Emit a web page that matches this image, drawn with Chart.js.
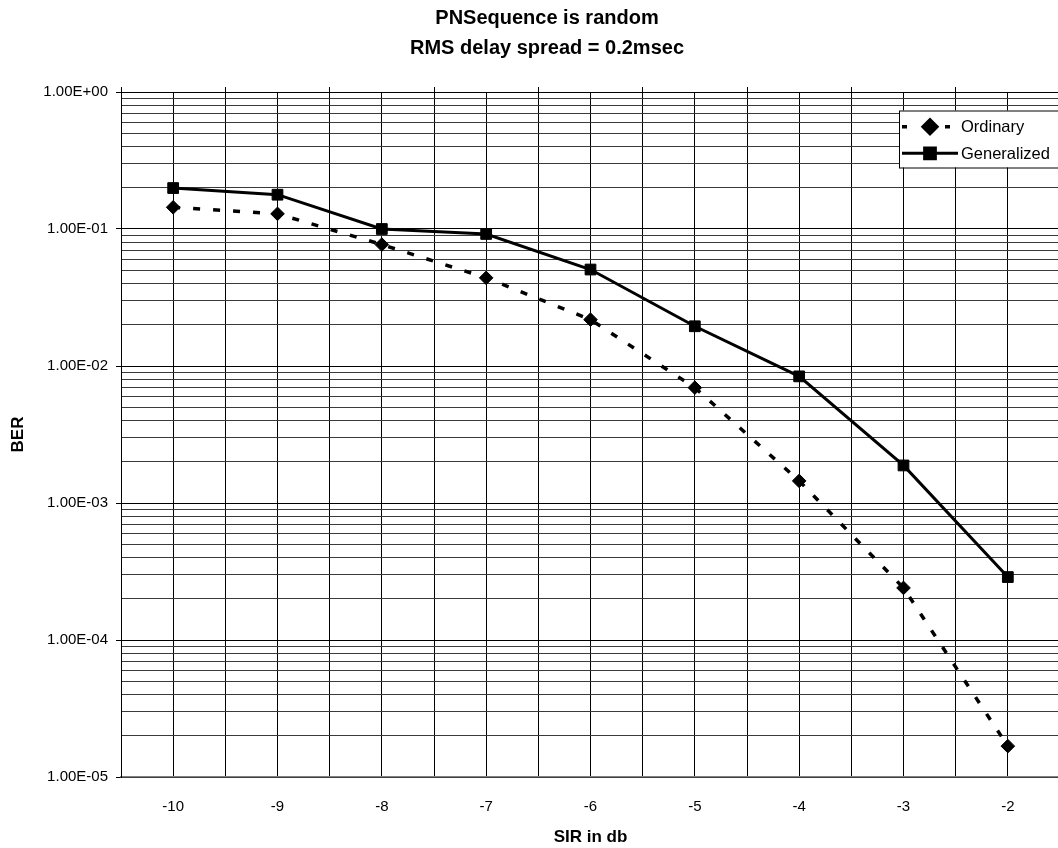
<!DOCTYPE html>
<html><head><meta charset="utf-8">
<script src="https://cdn.jsdelivr.net/npm/chart.js@4/dist/chart.umd.min.js"></script>
<style>
html,body{margin:0;padding:0;background:#fff;overflow:hidden;width:1058px;height:848px}
#wrap{position:absolute;left:0;top:0;width:1094px;height:848px}
</style>
</head><body><div id="wrap"><canvas id="c" width="1094" height="848"></canvas></div>
<script>
// ---- data ----
const sirDb = [-10, -9, -8, -7, -6, -5, -4, -3, -2];
const berOrdinary = [0.144, 0.129, 0.077, 0.044, 0.0218, 0.00695, 0.00145, 0.00024, 0.0000168];
const berGeneralized = [0.199, 0.178, 0.100, 0.092, 0.0506, 0.0195, 0.0084, 0.00188, 0.000288];
const decadeValues = [1e-5, 1e-4, 1e-3, 1e-2, 1e-1, 1];
const decadeLabels = ['1.00E-05', '1.00E-04', '1.00E-03', '1.00E-02', '1.00E-01', '1.00E+00'];
const minorMultipliers = [2, 3, 4, 5, 6, 7, 8, 9];
const seriesNames = ['Ordinary', 'Generalized'];
const titleLines = ['PNSequence is random', 'RMS delay spread = 0.2msec'];
const xTitle = 'SIR in db';
const yTitle = 'BER';

const FONT = "'Liberation Sans', Arial, sans-serif";

const toPoints = (ys) => sirDb.map((x, i) => ({x: x, y: ys[i]}));
const xMin = sirDb[0] - 0.5;
const xMax = sirDb[sirDb.length - 1] + 0.5;

const legendPlugin = {
  id: 'excelLegend',
  afterDraw(chart) {
    const ctx = chart.ctx;
    const ds = chart.data.datasets;
    ctx.save();
    const x0 = 899, y0 = 110.5, w = 200, h = 57;
    ctx.fillStyle = '#fff';
    ctx.fillRect(x0, y0, w, h);
    ctx.strokeStyle = '#000';
    ctx.lineWidth = 1;
    ctx.strokeRect(x0 + 0.5, y0 + 0.5, w, h);
    const rows = [126.7, 153.3];
    const mx = 930;
    ds.forEach((d, i) => {
      const y = rows[i];
      ctx.strokeStyle = d.borderColor;
      ctx.lineWidth = d.borderWidth;
      ctx.setLineDash([]);
      ctx.beginPath();
      if (d.borderDash && d.borderDash.length) {
        ctx.moveTo(902, y); ctx.lineTo(907, y);
        ctx.moveTo(945, y); ctx.lineTo(950, y);
      } else {
        ctx.moveTo(902, y); ctx.lineTo(958, y);
      }
      ctx.stroke();
      ctx.fillStyle = d.pointBackgroundColor;
      ctx.strokeStyle = d.pointBorderColor;
      Chart.helpers.drawPoint(ctx, {pointStyle: d.pointStyle, radius: d.pointRadius, rotation: 0, borderWidth: d.pointBorderWidth}, mx, y);
      ctx.fillStyle = '#000';
      ctx.font = '16.5px ' + FONT;
      ctx.textBaseline = 'middle';
      ctx.textAlign = 'left';
      ctx.fillText(d.label, 961, y + 1);
    });
    ctx.restore();
  }
};

new Chart(document.getElementById('c'), {
  type: 'line',
  data: {
    datasets: [
      {
        label: seriesNames[0],
        data: toPoints(berOrdinary),
        borderColor: '#000',
        borderWidth: 3.5,
        borderDash: [7, 13],
        pointStyle: 'rectRot',
        pointRadius: 6.8,
        pointBorderWidth: 1,
        pointBackgroundColor: '#000',
        pointBorderColor: '#000',
        tension: 0
      },
      {
        label: seriesNames[1],
        data: toPoints(berGeneralized),
        borderColor: '#000',
        borderWidth: 3,
        pointStyle: 'rect',
        pointRadius: 7.6,
        pointBorderWidth: 1,
        pointBackgroundColor: '#000',
        pointBorderColor: '#000',
        tension: 0
      }
    ]
  },
  options: {
    responsive: false,
    animation: false,
    events: [],
    layout: {padding: 0},
    plugins: {
      legend: {display: false},
      tooltip: {enabled: false},
      title: {
        display: true,
        text: titleLines,
        color: '#000',
        font: {family: FONT, size: 20, weight: 'bold', lineHeight: 1.5},
        padding: {top: 3, bottom: 29}
      }
    },
    scales: {
      x: {
        type: 'linear',
        min: xMin,
        max: xMax,
        afterBuildTicks: (axis) => {
          const t = [];
          sirDb.forEach(c => { t.push({value: c - 0.5}); t.push({value: c}); });
          t.push({value: xMax});
          axis.ticks = t;
        },
        afterFit: (s) => { s.height = 71; },
        grid: {color: '#000', lineWidth: 1, drawTicks: false},
        border: {color: '#808080', width: 1.5},
        ticks: {
          autoSkip: false, maxRotation: 0, padding: 21, color: '#000',
          font: {family: FONT, size: 15},
          callback: (v) => sirDb.includes(v) ? String(v) : ''
        },
        title: {display: true, text: xTitle, color: '#000', font: {family: FONT, size: 17, weight: 'bold'}, padding: {top: 0, bottom: 0}}
      },
      xTop: {
        type: 'linear',
        position: 'top',
        min: xMin,
        max: xMax,
        afterBuildTicks: (axis) => {
          const t = [];
          sirDb.forEach(c => { t.push({value: c - 0.5}); });
          t.push({value: xMax});
          axis.ticks = t;
        },
        afterFit: (s) => { s.height = 0; },
        grid: {drawOnChartArea: false, drawTicks: true, tickLength: 5, tickColor: '#000'},
        border: {display: false},
        ticks: {display: false}
      },
      y: {
        type: 'logarithmic',
        min: decadeValues[0],
        max: decadeValues[decadeValues.length - 1],
        afterBuildTicks: (axis) => {
          const t = [];
          decadeValues.forEach((d, i) => {
            t.push({value: d, major: true});
            if (i < decadeValues.length - 1) minorMultipliers.forEach(m => t.push({value: d * m, major: false}));
          });
          axis.ticks = t;
        },
        afterFit: (s) => { s.width = 121; },
        grid: {
          color: (c) => (c.tick && c.tick.major) ? '#000' : '#3a3a3a',
          tickColor: (c) => (c.tick && c.tick.major) ? '#000' : 'rgba(0,0,0,0)',
          lineWidth: 1, tickLength: 5
        },
        border: {color: '#000', width: 1},
        ticks: {
          autoSkip: false, padding: 8, color: '#000',
          font: {family: FONT, size: 15},
          callback: (v) => {
            const k = decadeValues.findIndex(d => Math.abs(d - v) / d < 1e-9);
            return k >= 0 ? decadeLabels[k] : '';
          }
        },
        title: {display: true, text: yTitle, color: '#000', font: {family: FONT, size: 17, weight: 'bold'}, padding: {top: 8, bottom: 0}}
      },
      yRight: {
        type: 'linear',
        position: 'right',
        display: true,
        afterFit: (s) => { s.width = 34; },
        grid: {drawOnChartArea: false, drawTicks: false},
        border: {display: false},
        ticks: {display: false}
      }
    }
  },
  plugins: [legendPlugin]
});
</script>
</body></html>
